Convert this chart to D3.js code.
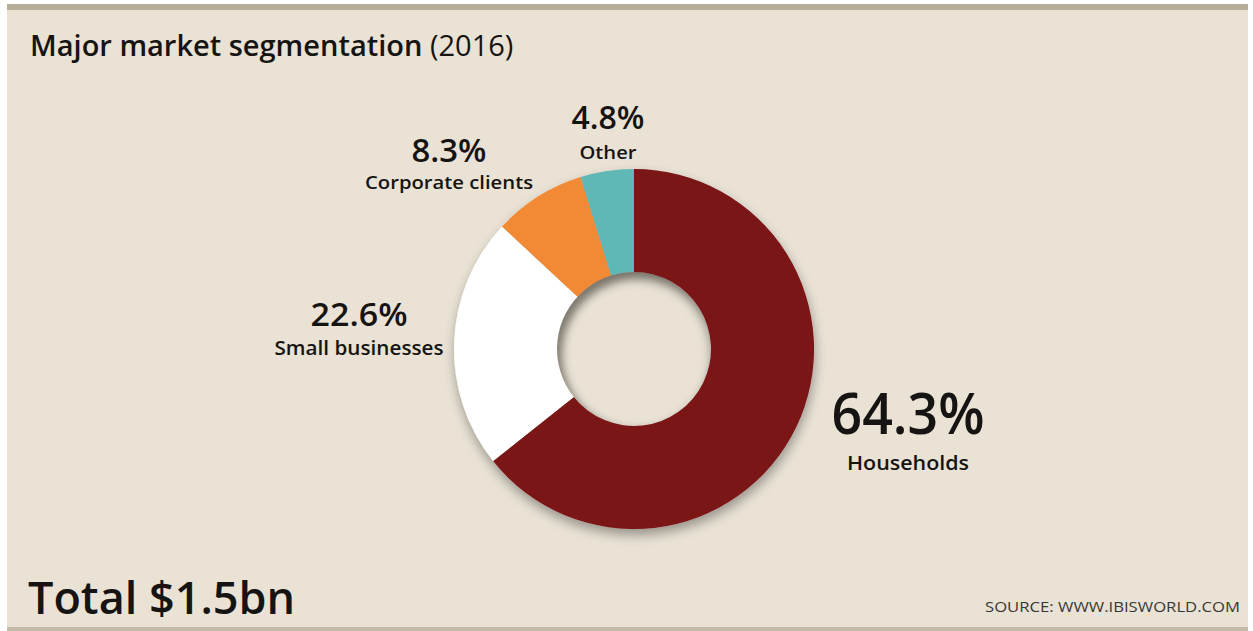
<!DOCTYPE html>
<html>
<head>
<meta charset="utf-8">
<script src="https://cdn.jsdelivr.net/npm/d3@7"></script>
<style>
  html, body { margin: 0; padding: 0; background: #ffffff; }
  svg { display: block; }
  text { font-family: "Open Sans", "DejaVu Sans", sans-serif; fill: #161412; }
</style>
</head>
<body>
<svg id="chart" width="1253" height="631"></svg>
<script>
// Market segments, clockwise from 12 o'clock
const segments = ["Households", "Small businesses", "Corporate clients", "Other"];
const shares = [64.3, 22.6, 8.3, 4.8];
const segmentColors = ["#7a1214", "#ffffff", "#f28a35", "#5fb8b5"];

const titleMain = "Major market segmentation";
const titleYear = " (2016)";
const totalLabel = "Total $1.5bn";
const sourceLabel = "SOURCE: WWW.IBISWORLD.COM";

const W = 1253, H = 631;
const cx = 634, cy = 349;
const outerR = 180, innerR = 77;
const bg = "#e9e2d5";

const svg = d3.select("#chart");
const defs = svg.append("defs");

// soft shadow under the ring
const drop = defs.append("filter").attr("id", "drop")
  .attr("x", "-20%").attr("y", "-20%").attr("width", "140%").attr("height", "140%");
drop.append("feGaussianBlur").attr("in", "SourceAlpha").attr("stdDeviation", 6).attr("result", "b");
drop.append("feOffset").attr("in", "b").attr("dx", 1).attr("dy", 6).attr("result", "o");
drop.append("feComponentTransfer").attr("in", "o").attr("result", "s")
  .append("feFuncA").attr("type", "linear").attr("slope", 0.35);
const m = drop.append("feMerge");
m.append("feMergeNode").attr("in", "s");
m.append("feMergeNode").attr("in", "SourceGraphic");

const blur = defs.append("filter").attr("id", "soft")
  .attr("x", "-30%").attr("y", "-30%").attr("width", "160%").attr("height", "160%");
blur.append("feGaussianBlur").attr("stdDeviation", 4);

defs.append("clipPath").attr("id", "hole")
  .append("circle").attr("cx", cx).attr("cy", cy).attr("r", innerR);

// panel background and rules
svg.append("rect").attr("x", 7).attr("y", 4).attr("width", 1241).attr("height", 627).attr("fill", bg);
svg.append("rect").attr("x", 7).attr("y", 4).attr("width", 1241).attr("height", 6).attr("fill", "#b5ae98");
svg.append("rect").attr("x", 7).attr("y", 627).attr("width", 1241).attr("height", 4).attr("fill", "#c3bcaa");

// title
const title = svg.append("text").attr("x", 30).attr("y", 56).style("font-size", "29px");
title.append("tspan").style("font-weight", 600).text(titleMain);
title.append("tspan").style("font-weight", 400).text(titleYear);

// donut
const pie = d3.pie().sort(null).value(d => d)(shares);
const arc = d3.arc().innerRadius(innerR).outerRadius(outerR);
const color = d3.scaleOrdinal().domain(segments).range(segmentColors);

const ring = svg.append("g").attr("transform", `translate(${cx},${cy})`).attr("filter", "url(#drop)");
ring.selectAll("path").data(pie).join("path")
  .attr("d", arc)
  .attr("fill", (d, i) => color(segments[i]));

// inner shadow inside the hole
svg.append("g").attr("clip-path", "url(#hole)")
  .append("circle")
  .attr("cx", cx + 5).attr("cy", cy + 6).attr("r", innerR + 9)
  .attr("fill", "none").attr("stroke", "#5a5448").attr("stroke-opacity", 0.55)
  .attr("stroke-width", 18).attr("filter", "url(#soft)");

// segment labels
const labelLayout = [
  { x: 908, y: 434, size: 58, len: 153, sub: 470, subSize: 19, subLen: 122 },
  { x: 359, y: 326, size: 33, len: 97, sub: 355, subSize: 19, subLen: 169 },
  { x: 449, y: 162, size: 33, len: 75, sub: 189, subSize: 18, subLen: 168 },
  { x: 608, y: 129, size: 33, len: 73, sub: 159, subSize: 18, subLen: 57 }
];
const fmt = d3.format(".1f");
const labels = svg.append("g").selectAll("g").data(pie).join("g");
labels.append("text")
  .attr("x", (d, i) => labelLayout[i].x)
  .attr("y", (d, i) => labelLayout[i].y)
  .attr("text-anchor", "middle")
  .attr("textLength", (d, i) => labelLayout[i].len)
  .attr("lengthAdjust", "spacingAndGlyphs")
  .style("font-size", (d, i) => labelLayout[i].size + "px")
  .style("font-weight", 600)
  .text(d => fmt(d.data) + "%");
labels.append("text")
  .attr("x", (d, i) => labelLayout[i].x)
  .attr("y", (d, i) => labelLayout[i].sub)
  .attr("text-anchor", "middle")
  .attr("textLength", (d, i) => labelLayout[i].subLen)
  .attr("lengthAdjust", "spacingAndGlyphs")
  .style("font-size", (d, i) => labelLayout[i].subSize + "px")
  .style("font-weight", 600)
  .text((d, i) => segments[i]);

// footer
svg.append("text").attr("x", 28).attr("y", 614)
  .attr("textLength", 267).attr("lengthAdjust", "spacingAndGlyphs")
  .style("font-size", "46px").style("font-weight", 600)
  .text(totalLabel);
svg.append("text").attr("x", 1240).attr("y", 612).attr("text-anchor", "end")
  .attr("textLength", 255).attr("lengthAdjust", "spacingAndGlyphs")
  .style("font-size", "14px").style("fill", "#3a3733")
  .text(sourceLabel);
</script>
</body>
</html>
